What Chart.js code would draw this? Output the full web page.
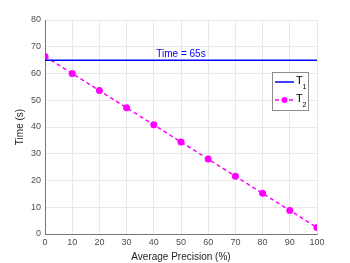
<!DOCTYPE html>
<html>
<head>
<meta charset="utf-8">
<script src="https://cdn.jsdelivr.net/npm/chart.js@4"></script>
<style>
  html, body { margin: 0; padding: 0; background: #fff; }
  #wrap { width: 350px; height: 263px; position: relative; }
</style>
</head>
<body>
<div id="wrap"><canvas id="chart"></canvas></div>
<script>
// Data
const precision = [0, 10, 20, 30, 40, 50, 60, 70, 80, 90, 100];
const timeT2 = [66.4, 60.0, 53.6, 47.2, 40.8, 34.4, 28.0, 21.6, 15.2, 8.8, 2.4];
const timeT1 = [65, 65];
const t1Range = [0, 100];
const thresholdLabel = 'Time = 65s';
const legendNames = ['T', 'T'];
const legendSubs = ['1', '2'];

const FONT = '"Liberation Sans", Arial, sans-serif';
const BLUE = 'rgb(0, 0, 255)';
const MAGENTA = 'rgb(255, 0, 255)';

// Draws the "Time = 65s" label and the in-plot legend box
const overlayPlugin = {
    id: 'overlay',
    afterDatasetsDraw(chart) {
        const { ctx, scales } = chart;
        const x = scales.x, y = scales.y;

        ctx.save();
        ctx.font = '10px ' + FONT;
        ctx.fillStyle = BLUE;
        ctx.textAlign = 'center';
        ctx.textBaseline = 'bottom';
        ctx.fillText(thresholdLabel, x.getPixelForValue(50), y.getPixelForValue(65) - 1);

        // legend box
        const bx = 272, by = 72, bw = 36, bh = 38;
        ctx.fillStyle = '#fff';
        ctx.fillRect(bx, by, bw, bh);
        ctx.strokeStyle = '#8c8c8c';
        ctx.lineWidth = 1;
        ctx.strokeRect(bx + 0.5, by + 0.5, bw, bh);

        const rows = [by + 10, by + 28];
        // T1 sample
        ctx.strokeStyle = BLUE;
        ctx.lineWidth = 1.5;
        ctx.beginPath();
        ctx.moveTo(bx + 3, rows[0]);
        ctx.lineTo(bx + 22, rows[0]);
        ctx.stroke();
        // T2 sample
        ctx.strokeStyle = MAGENTA;
        ctx.setLineDash([4, 3]);
        ctx.beginPath();
        ctx.moveTo(bx + 3, rows[1]);
        ctx.lineTo(bx + 22, rows[1]);
        ctx.stroke();
        ctx.setLineDash([]);
        ctx.fillStyle = MAGENTA;
        ctx.beginPath();
        ctx.arc(bx + 12.5, rows[1], 3, 0, Math.PI * 2);
        ctx.fill();

        ctx.fillStyle = '#000';
        ctx.textAlign = 'left';
        ctx.textBaseline = 'middle';
        rows.forEach((ry, i) => {
            ctx.font = '11px ' + FONT;
            ctx.fillText(legendNames[i], bx + 24, ry - 1);
            ctx.font = '7px ' + FONT;
            ctx.fillText(legendSubs[i], bx + 30.5, ry + 5);
        });
        ctx.restore();
    }
};

new Chart(document.getElementById('chart'), {
    type: 'scatter',
    data: {
        datasets: [{
            label: 'T1',
            data: t1Range.map((v, i) => ({ x: v, y: timeT1[i] })),
            showLine: true,
            borderColor: BLUE,
            borderWidth: 1.5,
            pointRadius: 0
        }, {
            label: 'T2',
            data: precision.map((v, i) => ({ x: v, y: timeT2[i] })),
            showLine: true,
            borderColor: MAGENTA,
            borderWidth: 1.5,
            borderDash: [4, 3],
            pointRadius: 3.5,
            pointBackgroundColor: MAGENTA,
            pointBorderColor: MAGENTA,
            pointBorderWidth: 0
        }]
    },
    options: {
        responsive: true,
        maintainAspectRatio: false,
        animation: false,
        layout: { padding: { top: 20, right: 33, left: 14, bottom: 0 } },
        plugins: {
            legend: { display: false },
            tooltip: { enabled: false }
        },
        scales: {
            x: {
                min: 0, max: 100,
                ticks: { stepSize: 10, color: '#4d4d4d', font: { size: 9, family: FONT }, padding: 3, maxRotation: 0 },
                grid: { color: '#e8e8e8', drawTicks: false },
                border: { color: '#777', width: 1 },
                title: { display: true, text: 'Average Precision (%)', color: '#262626', font: { size: 10, family: FONT }, padding: { top: 1, bottom: 0 } },
                afterFit: s => { s.height = 29; }
            },
            y: {
                min: 0, max: 80,
                ticks: { stepSize: 10, color: '#4d4d4d', font: { size: 9, family: FONT }, padding: 4 },
                grid: { color: '#e8e8e8', drawTicks: false },
                border: { color: '#777', width: 1 },
                title: { display: true, text: 'Time (s)', color: '#262626', font: { size: 10, family: FONT }, padding: { top: 0, bottom: 0 } },
                afterFit: s => { s.width = 31; }
            }
        }
    },
    plugins: [overlayPlugin]
});
</script>
</body>
</html>
